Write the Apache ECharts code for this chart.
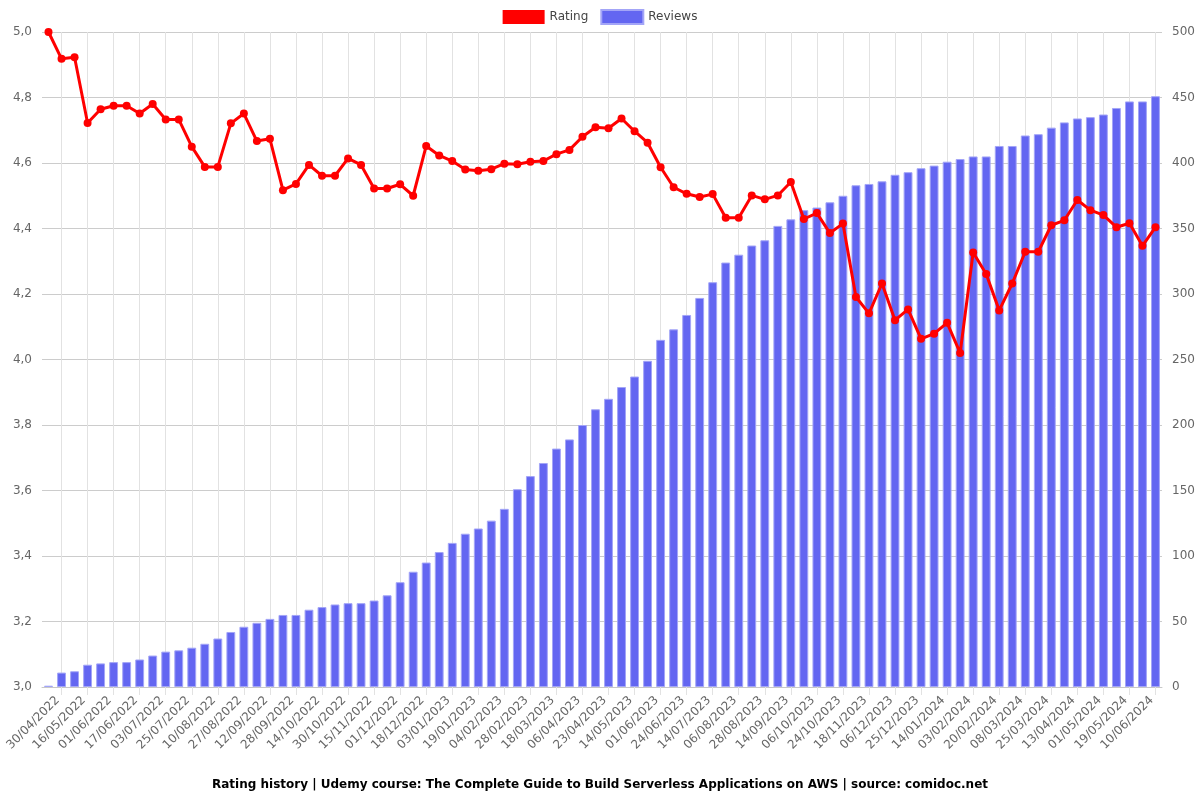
<!DOCTYPE html>
<html>
<head>
<meta charset="utf-8">
<script src="https://cdn.jsdelivr.net/npm/echarts@6/dist/echarts.min.js"></script>
<style>
html,body{margin:0;padding:0;background:#fff;}
#chart{width:1200px;height:800px;}
</style>
</head>
<body>
<div id="chart"></div>
<script>
const dates = [
"30/04/2022","08/05/2022","16/05/2022","24/05/2022","01/06/2022","09/06/2022","17/06/2022","25/06/2022",
"03/07/2022","14/07/2022","25/07/2022","02/08/2022","10/08/2022","18/08/2022","27/08/2022","04/09/2022",
"12/09/2022","20/09/2022","28/09/2022","06/10/2022","14/10/2022","22/10/2022","30/10/2022","07/11/2022",
"15/11/2022","23/11/2022","01/12/2022","09/12/2022","18/12/2022","26/12/2022","03/01/2023","11/01/2023",
"19/01/2023","27/01/2023","04/02/2023","16/02/2023","28/02/2023","09/03/2023","18/03/2023","28/03/2023",
"06/04/2023","15/04/2023","23/04/2023","03/05/2023","14/05/2023","23/05/2023","01/06/2023","12/06/2023",
"24/06/2023","04/07/2023","14/07/2023","25/07/2023","06/08/2023","17/08/2023","28/08/2023","05/09/2023",
"14/09/2023","25/09/2023","06/10/2023","15/10/2023","24/10/2023","05/11/2023","18/11/2023","27/11/2023",
"06/12/2023","15/12/2023","25/12/2023","04/01/2024","14/01/2024","24/01/2024","03/02/2024","12/02/2024",
"20/02/2024","28/02/2024","08/03/2024","16/03/2024","25/03/2024","04/04/2024","13/04/2024","22/04/2024",
"01/05/2024","10/05/2024","19/05/2024","29/05/2024","10/06/2024","19/06/2024"
];

const rating = [
5.00,4.918,4.923,4.722,4.764,4.775,4.775,4.751,4.780,4.733,
4.733,4.650,4.588,4.588,4.721,4.751,4.667,4.674,4.517,4.536,
4.594,4.561,4.561,4.614,4.594,4.522,4.522,4.535,4.500,4.652,
4.623,4.606,4.580,4.576,4.581,4.598,4.596,4.604,4.606,4.627,
4.640,4.680,4.709,4.706,4.736,4.697,4.662,4.587,4.526,4.506,
4.496,4.505,4.433,4.433,4.501,4.489,4.501,4.542,4.429,4.447,
4.386,4.415,4.191,4.141,4.232,4.120,4.153,4.063,4.079,4.112,
4.020,4.327,4.261,4.150,4.232,4.329,4.329,4.410,4.425,4.487,
4.456,4.441,4.404,4.416,4.347,4.404
];

const reviews = [
1,11,12,17,18,19,19,21,24,27,
28,30,33,37,42,46,49,52,55,55,
59,61,63,64,64,66,70,80,88,95,
103,110,117,121,127,136,151,161,171,182,
189,200,212,220,229,237,249,265,273,284,
297,309,324,330,337,341,352,357,364,366,
370,375,383,384,386,391,393,396,398,401,
403,405,405,413,413,421,422,427,431,434,
435,437,442,447,447,451
];

const titleText = "Rating history | Udemy course: The Complete Guide to Build Serverless Applications on AWS | source: comidoc.net";
const FONT = "DejaVu Sans";

const chart = echarts.init(document.getElementById('chart'), null, {renderer: 'canvas'});
const oddOnly = function (i) { return i % 2 === 1; };

chart.setOption({
  animation: false,
  backgroundColor: '#ffffff',
  textStyle: {fontFamily: FONT},
  title: {
    text: titleText,
    left: 'center',
    bottom: 4,
    textStyle: {fontFamily: FONT, fontSize: 12, fontWeight: 'bold', color: '#000'}
  },
  legend: {
    top: 4,
    left: 'center',
    itemWidth: 42,
    itemHeight: 14,
    itemGap: 12,
    icon: 'rect',
    textStyle: {fontFamily: FONT, fontSize: 12, color: '#444'},
    data: ['Rating', 'Reviews']
  },
  grid: {left: 42, right: 38, top: 32, bottom: 113, containLabel: false, outerBoundsMode: 'none'},
  xAxis: {
    type: 'category',
    data: dates,
    boundaryGap: true,
    axisLine: {show: true, lineStyle: {color: '#c8c8c8', width: 1}},
    axisTick: {show: true, alignWithLabel: true, interval: oddOnly, length: 8, lineStyle: {color: '#e2e2e2'}},
    splitLine: {show: true, alignWithLabel: true, interval: oddOnly, lineStyle: {color: '#e2e2e2', width: 1}},
    axisLabel: {interval: 1, rotate: 45, fontFamily: FONT, fontSize: 12, color: '#666', margin: 12,
      verticalAlign: 'top', padding: [0, -7, 0, 0]}
  },
  yAxis: [
    {
      type: 'value', min: 3.0, max: 5.0, interval: 0.2, position: 'left',
      axisLine: {show: false}, axisTick: {show: false},
      splitLine: {show: true, lineStyle: {color: '#cccccc', width: 1}},
      axisLabel: {fontFamily: FONT, fontSize: 12, color: '#666', margin: 10,
        formatter: function (v) { return v.toFixed(1).replace('.', ','); }}
    },
    {
      type: 'value', min: 0, max: 500, interval: 50, position: 'right',
      axisLine: {show: false}, axisTick: {show: false},
      splitLine: {show: false},
      axisLabel: {fontFamily: FONT, fontSize: 12, color: '#666', margin: 10}
    }
  ],
  series: [
    {
      name: 'Rating',
      type: 'line',
      yAxisIndex: 0,
      data: rating,
      z: 5,
      symbol: 'circle',
      symbolSize: 8,
      lineStyle: {color: '#ff0000', width: 3},
      itemStyle: {color: '#ff0000'}
    },
    {
      name: 'Reviews',
      type: 'bar',
      yAxisIndex: 1,
      data: reviews,
      z: 2,
      barCategoryGap: '32%',
      itemStyle: {color: '#6366f1', borderColor: '#a3a5f7', borderWidth: 1}
    }
  ]
});
</script>
</body>
</html>
